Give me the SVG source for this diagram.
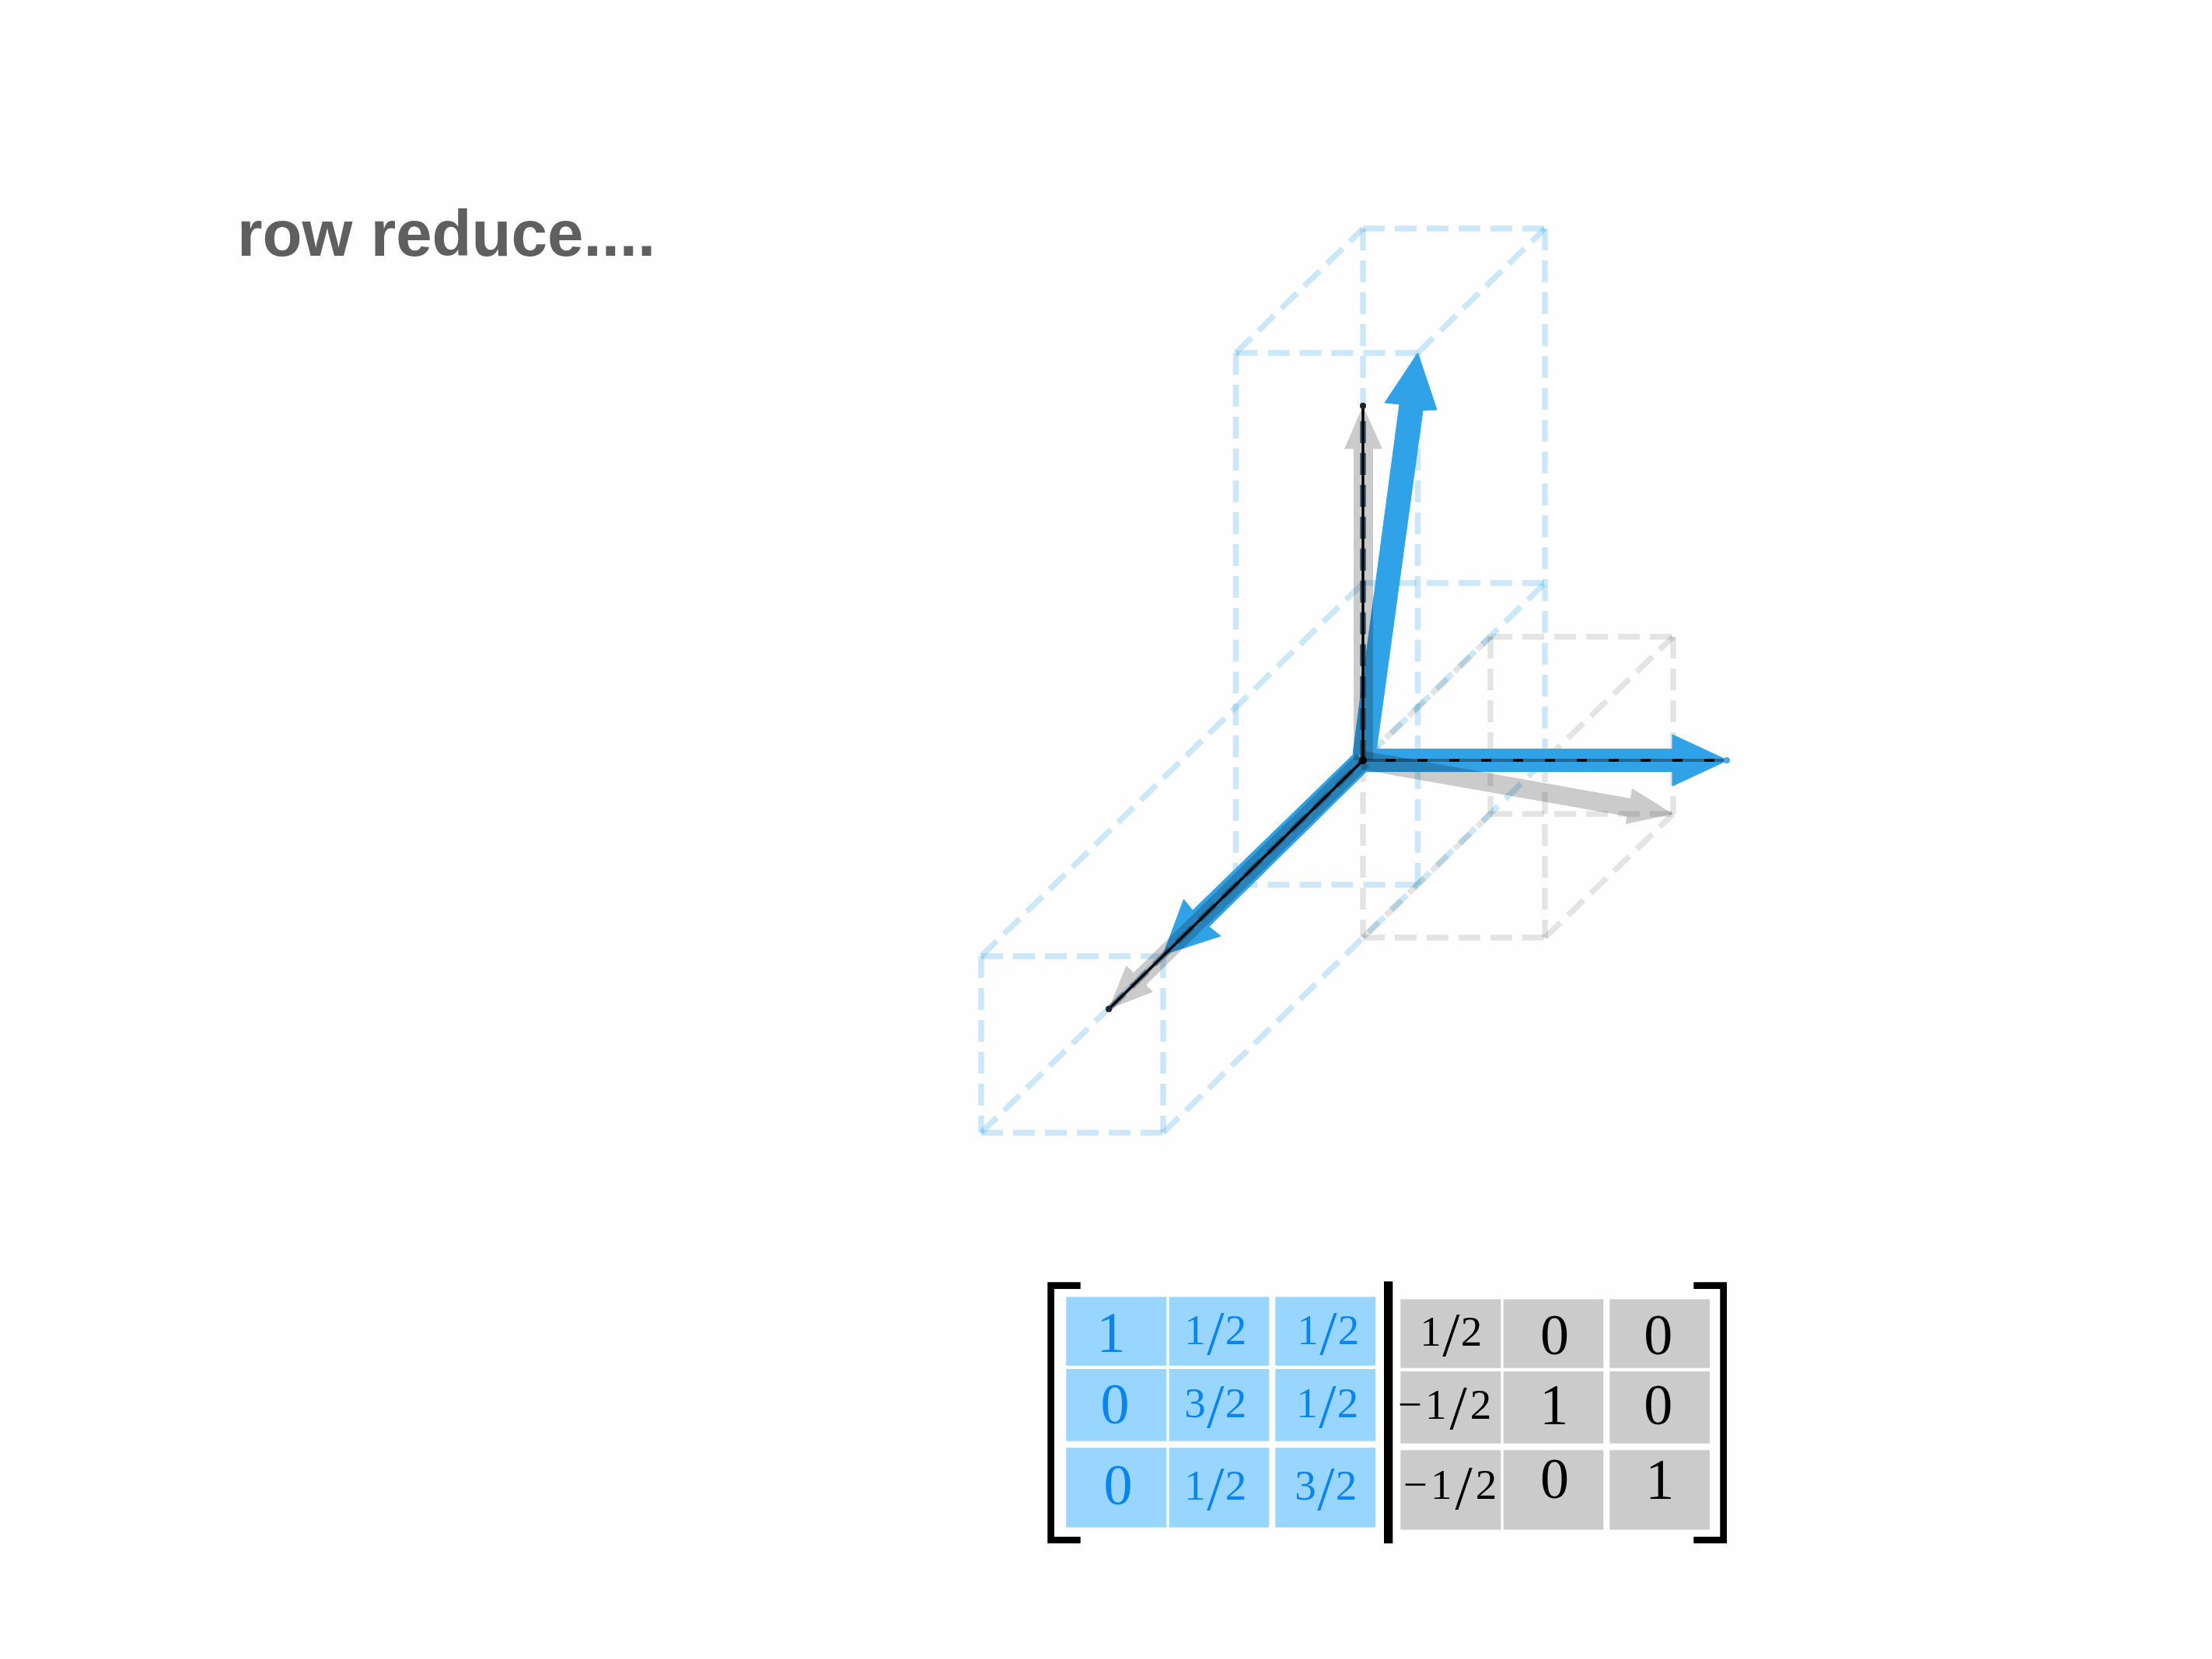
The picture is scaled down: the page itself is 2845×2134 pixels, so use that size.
<svg xmlns="http://www.w3.org/2000/svg" width="2845" height="2134" viewBox="0 0 2845 2134">
<style>
.b{fill:none;stroke:#30a3e8;stroke-opacity:.24;stroke-width:7.5;stroke-dasharray:28 13}
.g{fill:none;stroke:#000;stroke-opacity:.1;stroke-width:7.5;stroke-dasharray:28 13}
.ab{fill:#30a3e8;stroke:#30a3e8;stroke-width:1}
.ag{fill:#000;fill-opacity:.2}
.k{fill:none;stroke:#000;stroke-width:3.5}
.d{fill:none;stroke:#14405f;stroke-width:7.5;stroke-dasharray:28 13}
.cb{fill:#99d6ff}
.cg{fill:#cbcbcb}
.br{fill:#000}
text{font-family:"Liberation Serif","Times New Roman",serif;text-anchor:middle}
.tb{fill:#0a84f0}
.tk{fill:#000}
.big{font-size:74px}
.fr{font-size:55px;letter-spacing:1.5px}
.neg{font-size:55px;letter-spacing:4px}
.s{font-size:80px}
.title{font-family:"Liberation Sans",Arial,sans-serif;font-weight:700;font-size:83.5px;fill:#5f5f5f;text-anchor:start}
</style>
<rect width="2845" height="2134" fill="#fefefe"/>
<g id="title"><text class="title" x="305" y="329">row reduce....</text></g>
<g id="blue-box">
<path class="b" d="M1753 294H1987"/><path class="b" d="M1589.5 454H1823.5"/><path class="b" d="M1753 750H1987"/><path class="b" d="M1589.5 1138H1823.5"/><path class="b" d="M1262 1230H1496"/><path class="b" d="M1262 1457H1496"/><path class="b" d="M1753 978H1987"/>
<path class="b" d="M1753 294V978"/><path class="b" d="M1987 294V978"/><path class="b" d="M1589.5 454V1138"/><path class="b" d="M1823.5 454V1138"/><path class="b" d="M1262 1230V1457"/><path class="b" d="M1496 1230V1457"/>
<path class="b" d="M1589.5 454L1753 294"/><path class="b" d="M1823.5 454L1987 294"/><path class="b" d="M1262 1230L1753 750"/><path class="b" d="M1496 1230L1987 750"/><path class="b" d="M1262 1457L1753 978"/><path class="b" d="M1496 1457L1987 978"/>
</g>
<g id="grey-box">
<path class="g" d="M1917 819H2152"/><path class="g" d="M1917 1047H2152"/><path class="g" d="M1753 978H1987"/><path class="g" d="M1753 1206H1987"/>
<path class="g" d="M1917 819V1047"/><path class="g" d="M2152 819V1047"/><path class="g" d="M1753 978V1206"/><path class="g" d="M1987 978V1206"/>
<path class="g" d="M1753 978L1917 819"/><path class="g" d="M1987 978L2152 819"/><path class="g" d="M1753 1206L1917 1047"/><path class="g" d="M1987 1206L2152 1047"/>
</g>
<g id="connectors">
<polygon class="ab" points="2222,978 2151,945 2151,963.5 1753,963.5 1753,992.5 2151,992.5 2151,1011"/>
<polygon class="ab" points="1823.5,454 1781,518 1800,520 1740,970 1769,974 1830,528 1848,527"/>
<polygon class="ab" points="1496,1228 1522.5,1157 1534,1171 1743,968 1762,988 1555,1192 1570,1204"/>
<polygon class="ag" points="1753,522 1729,577.5 1741,577.5 1741,978 1766,978 1766,577.5 1778,577.5"/>
<polygon class="ag" points="2152,1047 2099,1014 2097,1027 1755,966 1751,990 2092,1050 2091,1060"/>
<polygon class="ag" points="1426,1298 1448.5,1242 1458,1251 1745,970 1761,986 1474,1267 1483,1276"/>
<path class="d" stroke-opacity=".8" d="M1753 542V978"/>
<path class="d" stroke-opacity=".45" d="M1426 1298L1753 978"/>
<path class="k" d="M1753 522V978"/>
<path class="k" d="M1753 978L1426 1298"/>
<path fill="none" stroke="#000" stroke-opacity=".35" stroke-width="4" d="M1753 978H2222"/>
<path class="k" stroke-width="4" stroke-dasharray="13 28" d="M1782 978H2222"/>
<circle cx="1753" cy="978" r="5"/><circle cx="1753" cy="522" r="4" fill="#222"/><circle cx="1426" cy="1298" r="4" fill="#223"/><circle cx="2221" cy="978" r="4" fill="#4aa8e6"/>
</g>
<g id="matrix">
<g id="brackets">
<path class="br" d="M1347.3 1649.3H1389.7V1658H1356V1976.7H1389.7V1985.3H1347.3Z"/>
<path class="br" d="M2221 1649.3H2178.3V1658H2212.3V1976.7H2178.3V1985.3H2221Z"/>
<rect class="br" x="1780" y="1648.3" width="11.3" height="337"/>
</g>
<g id="blue-cells">
<rect class="cb" x="1371.3" y="1668.3" width="129" height="88.4"/><rect class="cb" x="1503.7" y="1668.3" width="128.6" height="88.4"/><rect class="cb" x="1640.3" y="1668.3" width="128.7" height="88.4"/>
<rect class="cb" x="1371.3" y="1761" width="129" height="92.7"/><rect class="cb" x="1503.7" y="1761" width="128.6" height="92.7"/><rect class="cb" x="1640.3" y="1761" width="128.7" height="92.7"/>
<rect class="cb" x="1371.3" y="1862.3" width="129" height="102.4"/><rect class="cb" x="1503.7" y="1862.3" width="128.6" height="102.4"/><rect class="cb" x="1640.3" y="1862.3" width="128.7" height="102.4"/>
</g>
<g id="grey-cells">
<rect class="cg" x="1801.3" y="1671.3" width="129" height="88.4"/><rect class="cg" x="1933.7" y="1671.3" width="128.6" height="88.4"/><rect class="cg" x="2070.3" y="1671.3" width="128.7" height="88.4"/>
<rect class="cg" x="1801.3" y="1764" width="129" height="92.7"/><rect class="cg" x="1933.7" y="1764" width="128.6" height="92.7"/><rect class="cg" x="2070.3" y="1764" width="128.7" height="92.7"/>
<rect class="cg" x="1801.3" y="1865.3" width="129" height="102.4"/><rect class="cg" x="1933.7" y="1865.3" width="128.6" height="102.4"/><rect class="cg" x="2070.3" y="1865.3" width="128.7" height="102.4"/>
</g>
<g id="blue-entries">
<text class="big tb" x="1429" y="1739">1</text>
<text class="fr tb" x="1564" y="1729">1<tspan class="s" dy="13">/</tspan><tspan dy="-13">2</tspan></text>
<text class="fr tb" x="1709" y="1729">1<tspan class="s" dy="13">/</tspan><tspan dy="-13">2</tspan></text>
<text class="big tb" x="1434" y="1831">0</text>
<text class="fr tb" x="1564" y="1822.7">3<tspan class="s" dy="13">/</tspan><tspan dy="-13">2</tspan></text>
<text class="fr tb" x="1708" y="1822.7">1<tspan class="s" dy="13">/</tspan><tspan dy="-13">2</tspan></text>
<text class="big tb" x="1438" y="1935">0</text>
<text class="fr tb" x="1564" y="1929">1<tspan class="s" dy="13">/</tspan><tspan dy="-13">2</tspan></text>
<text class="fr tb" x="1706" y="1929">3<tspan class="s" dy="13">/</tspan><tspan dy="-13">2</tspan></text>
</g>
<g id="grey-entries">
<text class="fr tk" x="1867" y="1731">1<tspan class="s" dy="13">/</tspan><tspan dy="-13">2</tspan></text>
<text class="big tk" x="1999.5" y="1742">0</text>
<text class="big tk" x="2132.8" y="1742">0</text>
<text class="neg tk" x="1860" y="1825">−1<tspan class="s" dy="13">/</tspan><tspan dy="-13">2</tspan></text>
<text class="big tk" x="1998.7" y="1832">1</text>
<text class="big tk" x="2132.8" y="1832">0</text>
<text class="neg tk" x="1867" y="1927.7">−1<tspan class="s" dy="13">/</tspan><tspan dy="-13">2</tspan></text>
<text class="big tk" x="1999.5" y="1927">0</text>
<text class="big tk" x="2134.7" y="1928">1</text>
</g>
</g>
</svg>
